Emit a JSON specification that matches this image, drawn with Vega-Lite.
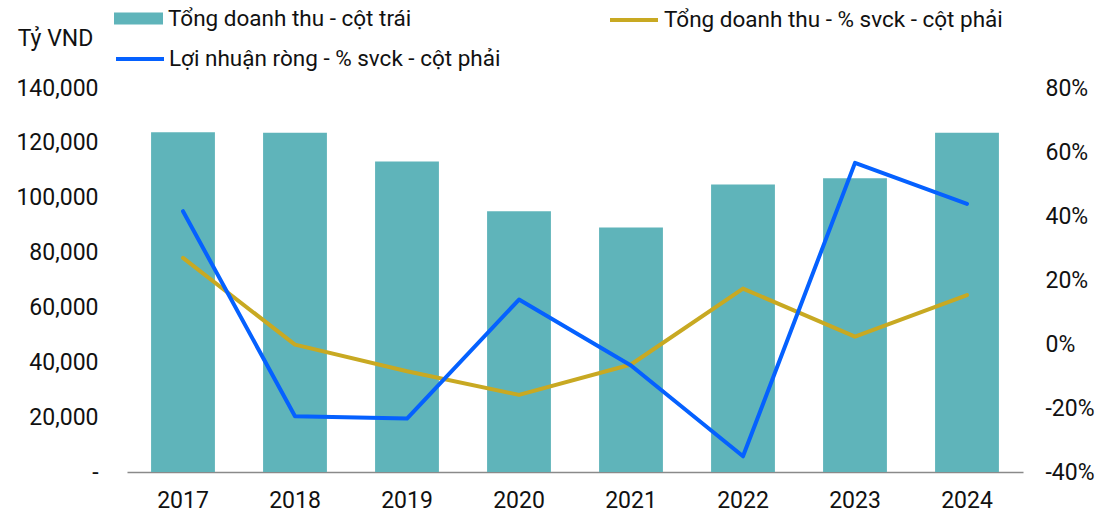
{
  "$schema": "https://vega.github.io/schema/vega-lite/v6.json",
  "width": 896,
  "height": 384,
  "autosize": "none",
  "padding": {"left": 127, "top": 88, "right": 90, "bottom": 48},
  "config": {
    "view": {"stroke": null},
    "font": "Roboto",
    "axis": {"labelFont": "Roboto", "labelFontSize": 23, "labelColor": "#111111", "grid": false, "ticks": false},
    "legend": {"labelFont": "Roboto", "labelFontSize": 22.5, "labelColor": "#111111", "padding": 0, "labelLimit": 700}
  },
  "data": {
    "values": [
      {"year": "2017", "revenue": 123900, "rev_yoy": 26.9, "np_yoy": 41.5},
      {"year": "2018", "revenue": 123700, "rev_yoy": -0.2, "np_yoy": -22.6},
      {"year": "2019", "revenue": 113200, "rev_yoy": -8.5, "np_yoy": -23.3},
      {"year": "2020", "revenue": 95100, "rev_yoy": -15.9, "np_yoy": 13.9},
      {"year": "2021", "revenue": 89100, "rev_yoy": -6.4, "np_yoy": -6.7},
      {"year": "2022", "revenue": 104800, "rev_yoy": 17.3, "np_yoy": -35.1},
      {"year": "2023", "revenue": 107100, "rev_yoy": 2.3, "np_yoy": 56.6},
      {"year": "2024", "revenue": 123700, "rev_yoy": 15.3, "np_yoy": 43.8}
    ]
  },
  "layer": [
    {
      "mark": {"type": "bar"},
      "encoding": {
        "x": {
          "field": "year", "type": "ordinal",
          "scale": {"paddingInner": 0.43, "paddingOuter": 0.215},
          "axis": {"title": null, "labelAngle": 0, "domainColor": "#8a8a8a", "domainWidth": 1.5, "labelPadding": 17}
        },
        "y": {
          "field": "revenue", "type": "quantitative",
          "scale": {"domain": [0, 140000]},
          "axis": {
            "title": "Tỷ VND", "titleAngle": 0, "titleX": -72, "titleY": -50,
            "titleAlign": "center", "titleBaseline": "middle", "titleFontSize": 23,
            "titleFontWeight": "normal", "titleColor": "#111111", "titleFont": "Roboto",
            "values": [0, 20000, 40000, 60000, 80000, 100000, 120000, 140000],
            "labelExpr": "datum.value == 0 ? '-' : format(datum.value, ',')",
            "domain": false, "labelPadding": 29
          }
        },
        "fill": {
          "datum": "Tổng doanh thu - cột trái",
          "scale": {"range": ["#5FB4BA"]},
          "legend": {
            "orient": "none", "legendX": -13, "legendY": -94, "title": null,
            "symbolType": "M-1,-0.245H1V0.245H-1Z", "symbolSize": 2401,
            "symbolStrokeWidth": 0, "labelOffset": 5
          }
        }
      }
    },
    {
      "mark": {"type": "line", "strokeWidth": 4, "strokeCap": "round", "strokeJoin": "round"},
      "encoding": {
        "x": {"field": "year", "type": "ordinal"},
        "y": {
          "field": "rev_yoy", "type": "quantitative",
          "scale": {"domain": [-40, 80]},
          "axis": {
            "orient": "right", "title": null,
            "values": [-40, -20, 0, 20, 40, 60, 80],
            "labelExpr": "datum.value + '%'",
            "domain": false, "labelPadding": 22
          }
        },
        "color": {
          "datum": "Tổng doanh thu - % svck - cột phải",
          "scale": {"range": ["#C8A922"]},
          "legend": {
            "orient": "none", "legendX": 481, "legendY": -94, "title": null,
            "symbolType": "stroke", "symbolSize": 2304, "symbolStrokeWidth": 4, "labelOffset": 4
          }
        }
      }
    },
    {
      "mark": {"type": "line", "strokeWidth": 4, "strokeCap": "round", "strokeJoin": "round"},
      "encoding": {
        "x": {"field": "year", "type": "ordinal"},
        "y": {
          "field": "np_yoy", "type": "quantitative",
          "scale": {"domain": [-40, 80]},
          "axis": null
        },
        "stroke": {
          "datum": "Lợi nhuận ròng - % svck - cột phải",
          "scale": {"range": ["#0561FF"]},
          "legend": {
            "orient": "none", "legendX": -13, "legendY": -55, "title": null,
            "symbolType": "stroke", "symbolSize": 2304, "symbolStrokeWidth": 4, "labelOffset": 3
          }
        }
      }
    }
  ],
  "resolve": {"scale": {"y": "independent"}}
}
